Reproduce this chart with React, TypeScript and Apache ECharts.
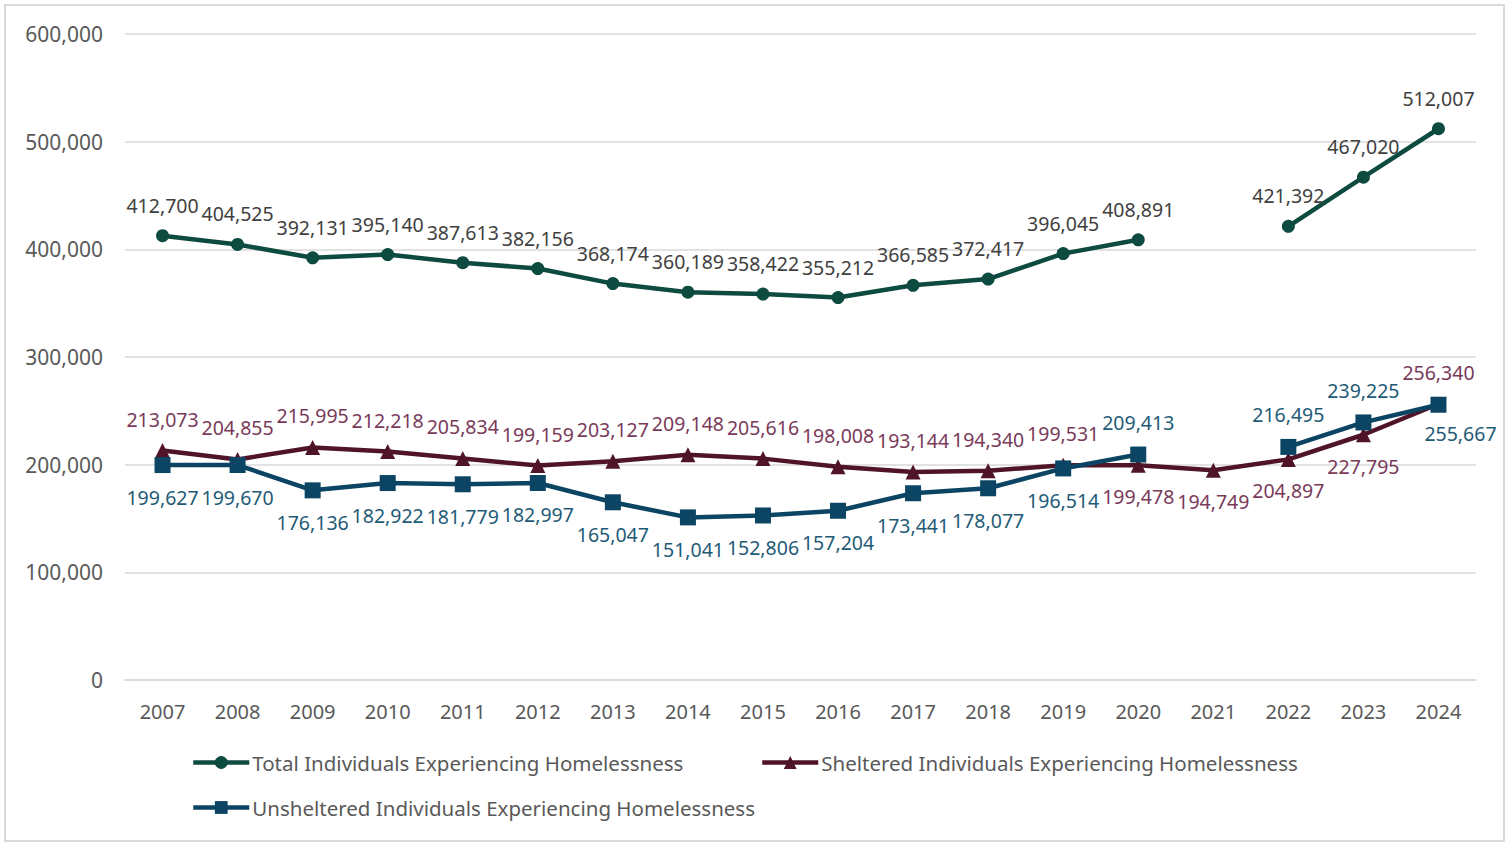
import React, { useEffect, useRef } from "react";
import * as echarts from "echarts";

const years = ["2007","2008","2009","2010","2011","2012","2013","2014","2015","2016","2017","2018","2019","2020","2021","2022","2023","2024"];
const totalValues = [412700,404525,392131,395140,387613,382156,368174,360189,358422,355212,366585,372417,396045,408891,null,421392,467020,512007];
const shelteredValues = [213073,204855,215995,212218,205834,199159,203127,209148,205616,198008,193144,194340,199531,199478,194749,204897,227795,256340];
const unshelteredValues = [199627,199670,176136,182922,181779,182997,165047,151041,152806,157204,173441,178077,196514,209413,null,216495,239225,255667];
const yTicks = { min: 0, max: 600000, interval: 100000 };

const NAMES = [
  "Total Individuals Experiencing Homelessness",
  "Sheltered Individuals Experiencing Homelessness",
  "Unsheltered Individuals Experiencing Homelessness",
];

const FONT = "Noto Sans";
const fmt = (v: number) => v.toLocaleString("en-US");

function build(values: (number | null)[], posFn: (i: number) => string, color: string) {
  return values.map((v, i) =>
    v === null
      ? "-"
      : {
          value: v,
          label: { position: posFn(i) as any, color },
        }
  );
}

export default function App() {
  const ref = useRef<HTMLDivElement>(null);
  useEffect(() => {
    document.body.style.margin = "0";
    const chart = echarts.init(ref.current!, null, { renderer: "svg" });
    const lbl = {
      show: true,
      fontFamily: FONT,
      fontSize: 19.5,
      distance: 14,
      formatter: (p: any) => fmt(p.value),
    };
    const shelPos = (i: number) => (i === 13 || i === 14 || i === 15 || i === 16 ? "bottom" : "top");
    const unshPos = (i: number) => (i === 13 || i === 15 || i === 16 ? "top" : "bottom");
    const legendCommon = {
      itemWidth: 56,
      itemHeight: 16,
      itemGap: 4,
      padding: 0,
      lineStyle: { width: 4.5 },
      textStyle: { fontFamily: FONT, fontSize: 20.5, color: "#595959", padding: [0, 0, 0, -2] },
    };
    chart.setOption({
      animation: false,
      grid: { left: 125, right: 34, top: 34, bottom: 164, containLabel: false },
      graphic: [
        {
          type: "rect",
          shape: { x: 5, y: 5, width: 1499, height: 836 },
          style: { fill: "none", stroke: "#d9d9d9", lineWidth: 2 },
          silent: true,
        },
      ],
      legend: [
        { ...legendCommon, data: [NAMES[0]], left: 191, top: 752 },
        { ...legendCommon, data: [NAMES[1]], left: 760, top: 752 },
        { ...legendCommon, data: [NAMES[2]], left: 191, top: 797 },
      ],
      xAxis: {
        type: "category",
        data: years,
        boundaryGap: true,
        axisLine: { lineStyle: { color: "#d9d9d9", width: 1.5 } },
        axisTick: { show: false },
        axisLabel: { fontFamily: FONT, fontSize: 20, color: "#595959", margin: 21 },
      },
      yAxis: {
        type: "value",
        min: yTicks.min,
        max: yTicks.max,
        interval: yTicks.interval,
        axisLine: { show: false },
        axisTick: { show: false },
        splitLine: { lineStyle: { color: "#d9d9d9", width: 1.5 } },
        axisLabel: {
          fontFamily: FONT,
          fontSize: 21,
          color: "#595959",
          margin: 22,
          formatter: (v: number) => fmt(v),
        },
      },
      series: [
        {
          name: NAMES[0],
          type: "line",
          data: build(totalValues, () => "top", "#404040"),
          connectNulls: false,
          symbol: "circle",
          symbolSize: 13,
          lineStyle: { color: "#0D4A3F", width: 4.5 },
          itemStyle: { color: "#0D4A3F" },
          label: { ...lbl },
          z: 3,
        },
        {
          name: NAMES[1],
          type: "line",
          data: build(shelteredValues, shelPos, "#7A3A5A"),
          symbol: "triangle",
          symbolSize: 15,
          lineStyle: { color: "#4F1427", width: 4.5 },
          itemStyle: { color: "#4F1427" },
          label: { ...lbl },
          z: 2,
        },
        {
          name: NAMES[2],
          type: "line",
          data: build(unshelteredValues, unshPos, "#1F5B77").map((d: any, i: number) =>
            i === 17 && d !== "-" ? { ...d, label: { ...d.label, position: "bottom", offset: [22, -3] } } : d
          ),
          connectNulls: false,
          symbol: "rect",
          symbolSize: 16,
          lineStyle: { color: "#0B4563", width: 4.5 },
          itemStyle: { color: "#0B4563" },
          label: { ...lbl },
          z: 4,
        },
      ],
    });
    return () => chart.dispose();
  }, []);
  return <div ref={ref} style={{ width: 1510, height: 844 }} />;
}
